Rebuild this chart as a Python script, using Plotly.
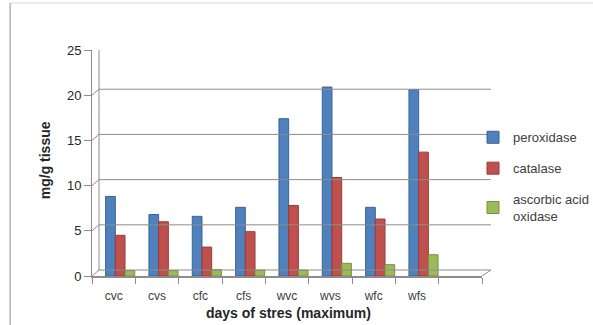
import plotly.graph_objects as go

categories = ["cvc", "cvs", "cfc", "cfs", "wvc", "wvs", "wfc", "wfs"]
peroxidase = [8.8, 6.8, 6.6, 7.6, 17.4, 20.9, 7.6, 20.6]
catalase = [4.5, 6.0, 3.2, 4.9, 7.8, 10.9, 6.3, 13.7]
ascorbic_acid_oxidase = [0.6, 0.6, 0.7, 0.65, 0.65, 1.4, 1.25, 2.35]
series_names = ["peroxidase", "catalase", "ascorbic acid<br>oxidase"]
colors = ["#4F81BD", "#C0504D", "#9BBB59"]
edge_colors = ["#3A6396", "#963C3A", "#76923C"]
y_ticks = [0, 5, 10, 15, 20, 25]

all_cats = categories + [" "]
FONT = "Liberation Sans"
BAR_W = 0.224

fig = go.Figure()
for i, (name, vals, c, ec) in enumerate(zip(series_names, [peroxidase, catalase, ascorbic_acid_oxidase], colors, edge_colors)):
    fig.add_trace(go.Bar(
        x=categories, y=vals, name=name, legendgroup=name,
        width=BAR_W, offset=-0.186 + i * BAR_W,
        marker=dict(color=c, line=dict(color=ec, width=1)),
    ))

# pseudo-3D back wall gridlines with diagonal connectors
dx, dy = 0.018, 0.66
shapes = []
for v in y_ticks:
    shapes.append(dict(type="line", xref="paper", yref="y", x0=0, x1=dx, y0=v, y1=v + dy,
                       line=dict(color="#8C8C8C", width=1)))
    shapes.append(dict(type="line", xref="paper", yref="y", x0=dx, x1=1.023, y0=v + dy, y1=v + dy,
                       line=dict(color="#8C8C8C", width=1)))
shapes.append(dict(type="line", xref="paper", yref="y", x0=1.0, x1=1.023, y0=0, y1=dy,
                   line=dict(color="#8C8C8C", width=1)))
shapes.append(dict(type="line", xref="paper", yref="y", x0=dx, x1=dx, y0=dy, y1=25 + dy,
                   line=dict(color="#8C8C8C", width=1)))
# outer frame (partially visible)
shapes.append(dict(type="line", xref="paper", yref="paper", x0=-0.21, x1=1.6, y0=1.208, y1=1.208,
                   line=dict(color="#D9D9D9", width=1)))
shapes.append(dict(type="line", xref="paper", yref="paper", x0=-0.21, x1=-0.21, y0=1.208, y1=-0.4,
                   line=dict(color="#8C8C8C", width=1)))

fig.update_layout(
    width=593, height=325,
    margin=dict(l=92, r=111, t=50, b=49, autoexpand=False),
    paper_bgcolor="white", plot_bgcolor="white",
    barmode="overlay",
    font=dict(family=FONT, size=11, color="#404040"),
    shapes=shapes,
    showlegend=True,
    legend=dict(x=0.977, y=0.68, xanchor="left", yanchor="top",
                font=dict(family=FONT, size=13, color="#404040"),
                tracegroupgap=11, itemwidth=30, bgcolor="rgba(0,0,0,0)"),
    xaxis=dict(type="category", categoryorder="array", categoryarray=all_cats,
               range=[-0.5, 8.5], tickson="boundaries", ticks="outside", ticklen=6,
               tickcolor="#8C8C8C", showline=True, linecolor="#8C8C8C", linewidth=2,
               showgrid=False, ticklabelstandoff=8,
               tickfont=dict(size=12, color="#404040")),
    yaxis=dict(range=[0, 25], tickvals=y_ticks, ticks="outside", ticklen=7,
               tickcolor="#8C8C8C", showline=True, linecolor="#8C8C8C", linewidth=1,
               showgrid=False, zeroline=False, tickfont=dict(size=13, color="#262626")),
    annotations=[
        dict(text="<b>days of stres (maximum)</b>", xref="paper", yref="paper", x=0.503, y=-0.164,
             xanchor="center", yanchor="middle",
             showarrow=False, font=dict(family=FONT, size=14, color="#262626")),
        dict(text="<b>mg/g tissue</b>", xref="paper", yref="paper", x=-0.12, y=0.513,
             xanchor="center", yanchor="middle",
             showarrow=False, textangle=-90, font=dict(family=FONT, size=14, color="#262626")),
    ],
)

fig.write_html("out.html", config={"displayModeBar": False},
               post_script="document.body.style.margin='0';")
